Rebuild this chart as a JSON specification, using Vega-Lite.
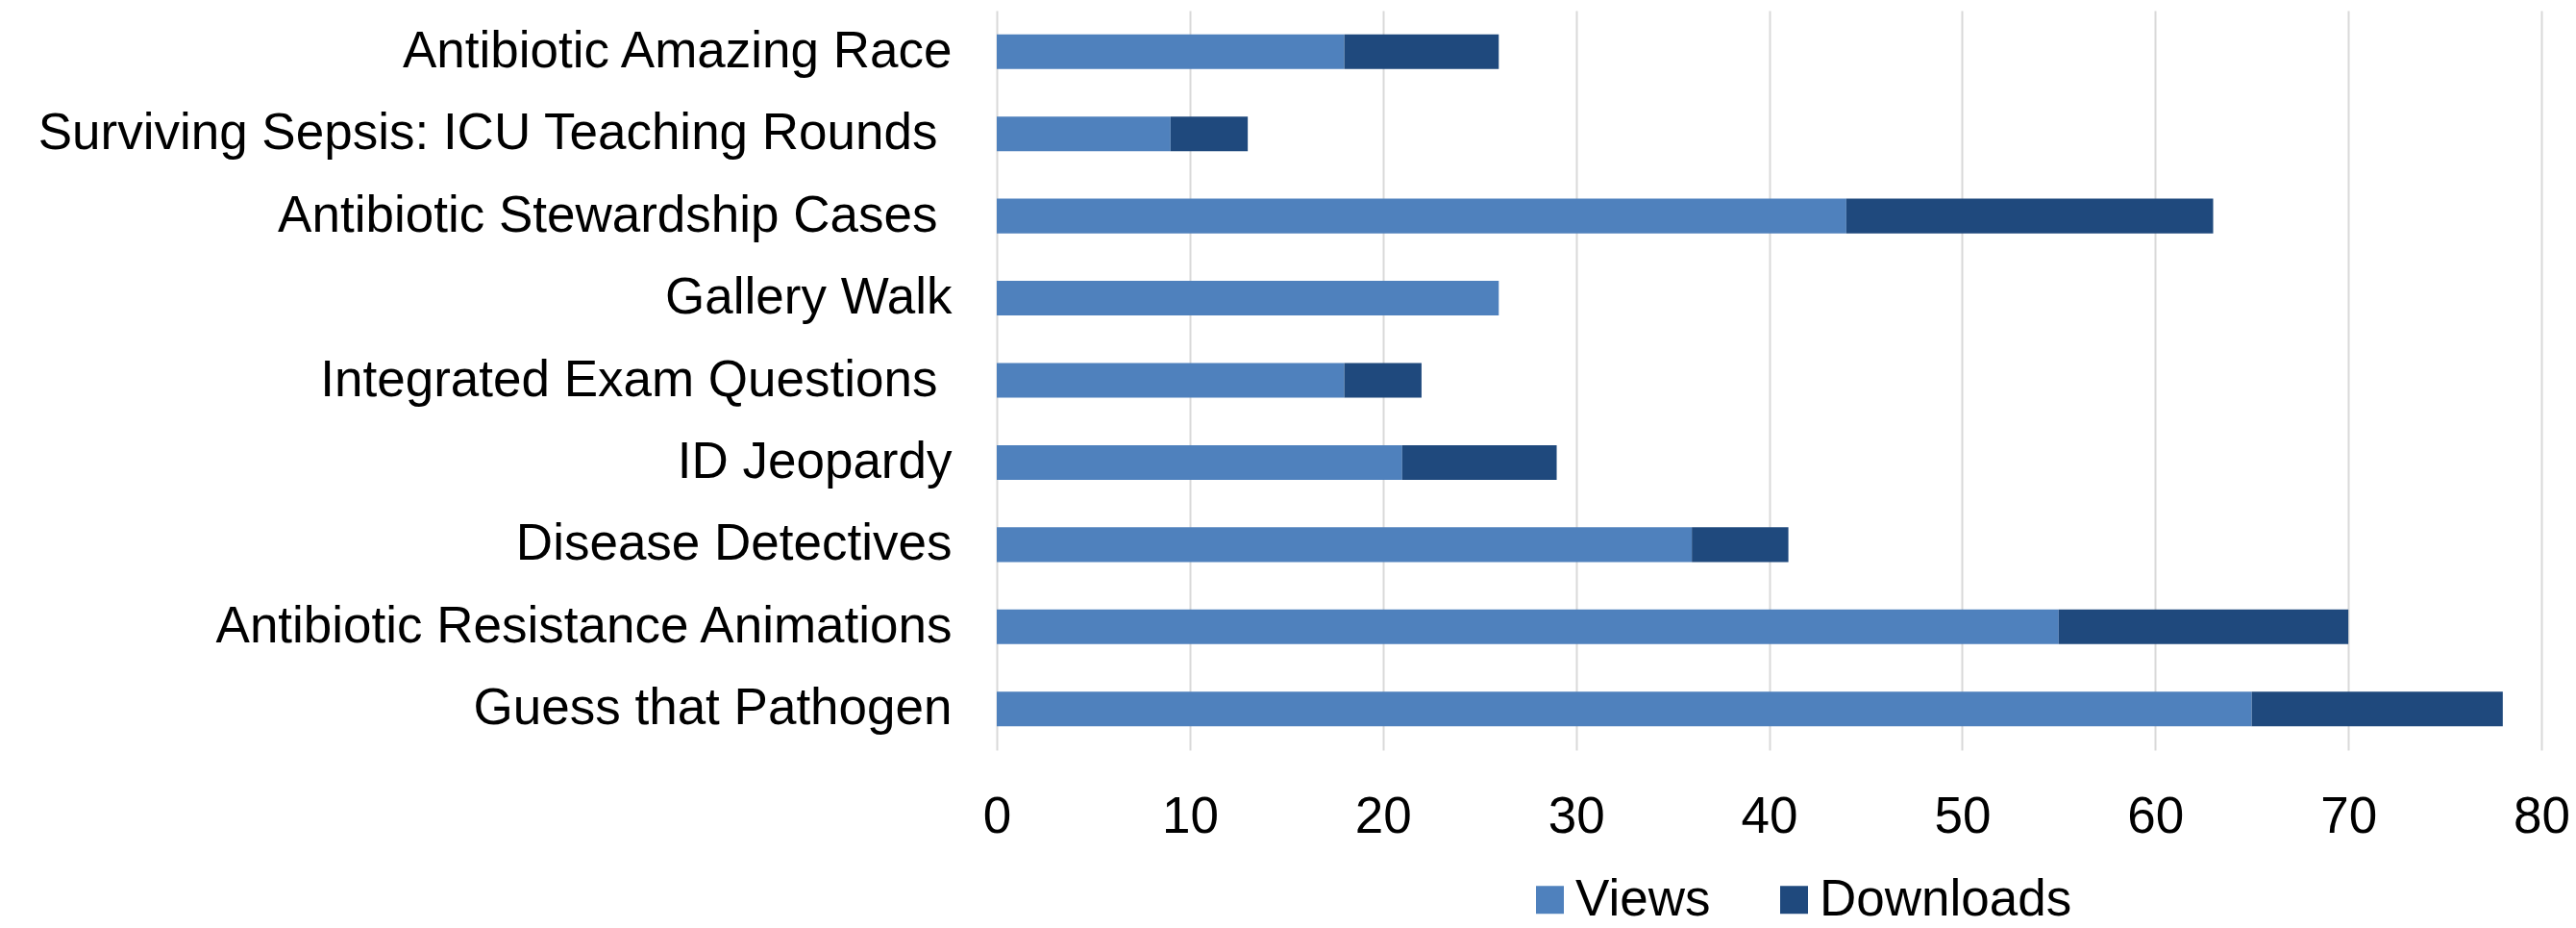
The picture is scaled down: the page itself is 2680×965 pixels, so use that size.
{
  "$schema": "https://vega.github.io/schema/vega-lite/v6.json",
  "width": 1607,
  "height": 769,
  "autosize": {"type": "none"},
  "padding": {"left": 1037, "top": 11, "right": 36, "bottom": 185},
  "background": "white",
  "config": {
    "view": {"stroke": null},
    "font": "Liberation Sans",
    "axis": {"labelFont": "Liberation Sans", "labelColor": "#000000"},
    "legend": {"labelFont": "Liberation Sans", "labelColor": "#000000"}
  },
  "data": {
    "values": [
      {"activity": "Antibiotic Amazing Race", "series": "Views", "count": 18},
      {"activity": "Antibiotic Amazing Race", "series": "Downloads", "count": 8},
      {"activity": "Surviving Sepsis: ICU Teaching Rounds ", "series": "Views", "count": 9},
      {"activity": "Surviving Sepsis: ICU Teaching Rounds ", "series": "Downloads", "count": 4},
      {"activity": "Antibiotic Stewardship Cases ", "series": "Views", "count": 44},
      {"activity": "Antibiotic Stewardship Cases ", "series": "Downloads", "count": 19},
      {"activity": "Gallery Walk", "series": "Views", "count": 26},
      {"activity": "Gallery Walk", "series": "Downloads", "count": 0},
      {"activity": "Integrated Exam Questions ", "series": "Views", "count": 18},
      {"activity": "Integrated Exam Questions ", "series": "Downloads", "count": 4},
      {"activity": "ID Jeopardy", "series": "Views", "count": 21},
      {"activity": "ID Jeopardy", "series": "Downloads", "count": 8},
      {"activity": "Disease Detectives", "series": "Views", "count": 36},
      {"activity": "Disease Detectives", "series": "Downloads", "count": 5},
      {"activity": "Antibiotic Resistance Animations", "series": "Views", "count": 55},
      {"activity": "Antibiotic Resistance Animations", "series": "Downloads", "count": 15},
      {"activity": "Guess that Pathogen", "series": "Views", "count": 65},
      {"activity": "Guess that Pathogen", "series": "Downloads", "count": 13}
    ]
  },
  "mark": {"type": "bar"},
  "encoding": {
    "y": {
      "field": "activity",
      "type": "nominal",
      "sort": null,
      "scale": {"paddingInner": 0.578, "paddingOuter": 0.289},
      "axis": {
        "title": null,
        "domain": false,
        "ticks": false,
        "grid": false,
        "labelFontSize": 53,
        "labelPadding": {"condition": {"test": "slice(datum.value, -1) === ' '", "value": 62}, "value": 47},
        "labelLimit": 1200
      }
    },
    "x": {
      "field": "count",
      "type": "quantitative",
      "stack": "zero",
      "scale": {"domain": [0, 80], "nice": false},
      "axis": {
        "title": null,
        "domain": false,
        "ticks": false,
        "values": [0, 10, 20, 30, 40, 50, 60, 70, 80],
        "grid": true,
        "gridColor": "#d9d9d9",
        "gridWidth": 2,
        "labelFontSize": 53,
        "labelPadding": 43,
        "labelFlush": false
      }
    },
    "color": {
      "field": "series",
      "type": "nominal",
      "scale": {"domain": ["Views", "Downloads"], "range": ["#4F81BD", "#1F497D"]},
      "legend": {
        "title": null,
        "orient": "none",
        "direction": "horizontal",
        "legendX": 549,
        "legendY": 898,
        "symbolType": "square",
        "symbolSize": 840,
        "symbolStrokeWidth": 0,
        "labelFontSize": 53,
        "labelOffset": 0,
        "labelLimit": 600,
        "columnPadding": 60
      }
    },
    "order": {"field": "series", "sort": "descending"}
  }
}
